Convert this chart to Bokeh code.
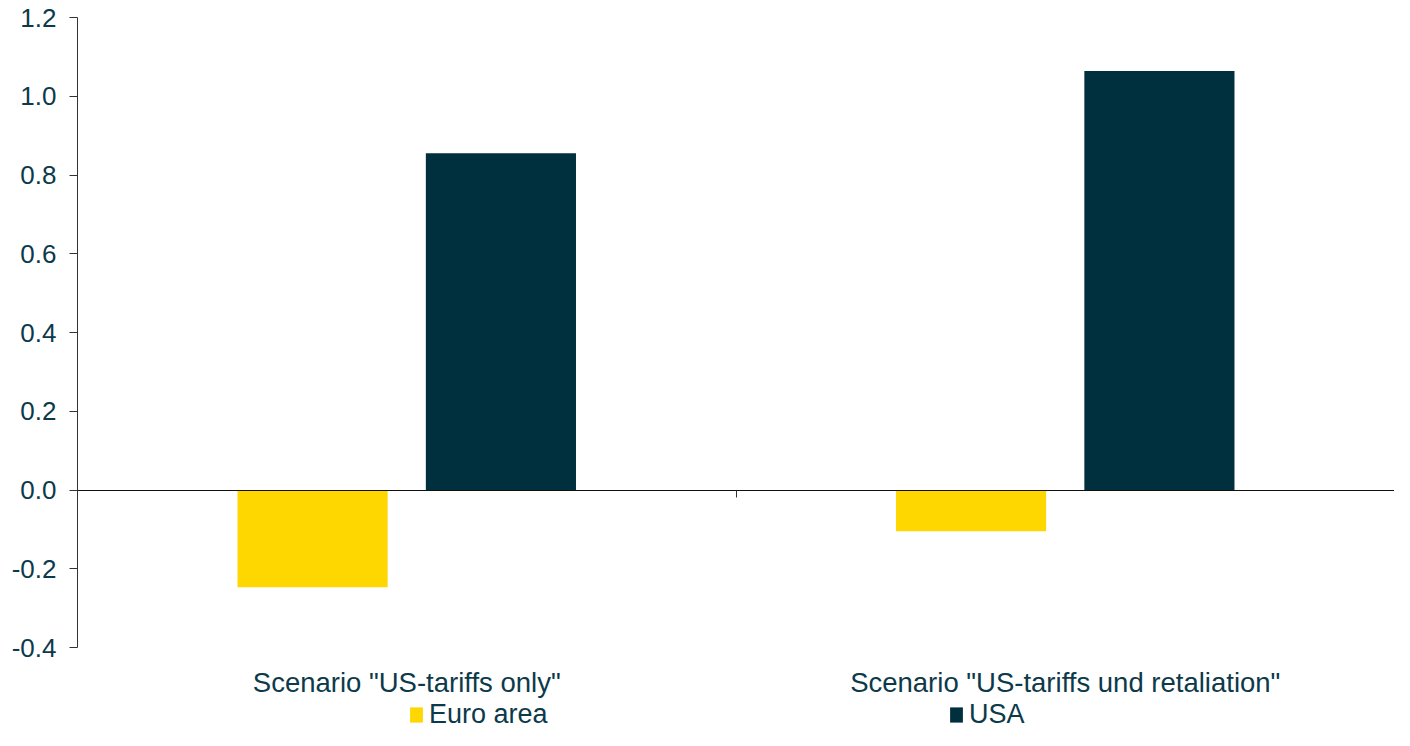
from bokeh.plotting import figure
from bokeh.models import (Range1d, FixedTicker, LinearAxis, Legend, LegendItem,
                          ColumnDataSource, NumeralTickFormatter)
from bokeh.embed import file_html
from bokeh.resources import INLINE

categories = ['Scenario "US-tariffs only"', 'Scenario "US-tariffs und retaliation"']
euro_area = [-0.247, -0.105]
usa = [0.855, 1.064]
y_ticks = [-0.4, -0.2, 0.0, 0.2, 0.4, 0.6, 0.8, 1.0, 1.2]
series_names = ["Euro area", "USA"]

YELLOW = "#FFD700"
NAVY = "#002F3D"
TEXT = "#0C3A4A"
FONT = "Liberation Sans"

Y_MIN, Y_MAX = y_ticks[0], y_ticks[-1]
H, TOP = 730, 17
PX_PER_UNIT = 630 / (Y_MAX - Y_MIN)
y_low = Y_MAX - (H - TOP) / PX_PER_UNIT   # extra room below the axis for labels/legend

centers = [i + 0.5 for i in range(len(categories))]
offset = 0.143
bar_w = 0.228

src = ColumnDataSource(dict(
    xe=[c - offset for c in centers], ye=euro_area,
    xu=[c + offset for c in centers], yu=usa,
))

p = figure(width=1394, height=H,
           x_range=Range1d(0, len(categories)), y_range=Range1d(y_low, Y_MAX),
           output_backend="svg", toolbar_location=None, x_axis_location=None,
           min_border_left=77, min_border_right=0, min_border_top=TOP, min_border_bottom=0)
p.outline_line_color = None
p.xgrid.visible = False
p.ygrid.visible = False
p.background_fill_color = "white"
p.border_fill_color = "white"

r_eu = p.vbar(x="xe", top="ye", bottom=0, width=bar_w, source=src,
              fill_color=YELLOW, line_color=None)
r_us = p.vbar(x="xu", top="yu", bottom=0, width=bar_w, source=src,
              fill_color=NAVY, line_color=None)

# y axis
ya = p.yaxis[0]
ya.bounds = (Y_MIN, Y_MAX)
ya.ticker = FixedTicker(ticks=y_ticks)
ya.formatter = NumeralTickFormatter(format="0.0")
ya.axis_line_color = "#333333"
ya.major_tick_line_color = "#333333"
ya.major_tick_out = 8
ya.major_tick_in = 0
ya.minor_tick_line_color = None
ya.major_label_standoff = 13
ya.major_label_text_font = FONT
ya.major_label_text_font_size = "26px"
ya.major_label_text_color = TEXT

# category labels axis, placed at the bottom of the value axis
xa = LinearAxis(fixed_location=Y_MIN, ticker=FixedTicker(ticks=centers))
xa.major_label_overrides = {c: lab for c, lab in zip(centers, categories)}
xa.axis_line_color = None
xa.major_tick_line_color = None
xa.minor_tick_line_color = None
xa.major_label_standoff = 13
xa.major_label_text_font = FONT
xa.major_label_text_font_size = "27.5px"
xa.major_label_text_color = TEXT
p.add_layout(xa, "below")

# zero axis with category boundary ticks
bounds = list(range(len(categories) + 1))
za = LinearAxis(fixed_location=0, ticker=FixedTicker(ticks=bounds))
za.axis_line_color = "#111111"
za.major_tick_line_color = "#333333"
za.major_tick_out = 7
za.major_tick_in = 0
za.minor_tick_line_color = None
za.major_label_overrides = {b: "" for b in bounds}
za.major_label_text_font_size = "0px"
p.add_layout(za, "below")

legend = Legend(items=[LegendItem(label=series_names[0], renderers=[r_eu]),
                       LegendItem(label=series_names[1], renderers=[r_us])],
                orientation="horizontal", location=(331, 0))
legend.border_line_color = None
legend.background_fill_alpha = 0
legend.padding = 0
legend.margin = 0
legend.spacing = 0
legend.glyph_width = 16
legend.glyph_height = 19
legend.label_standoff = 5
legend.label_width = 519
legend.label_text_font = FONT
legend.label_text_font_size = "27px"
legend.label_text_color = TEXT
p.add_layout(legend, "center")

open("out.html", "w").write(file_html(p, INLINE))
